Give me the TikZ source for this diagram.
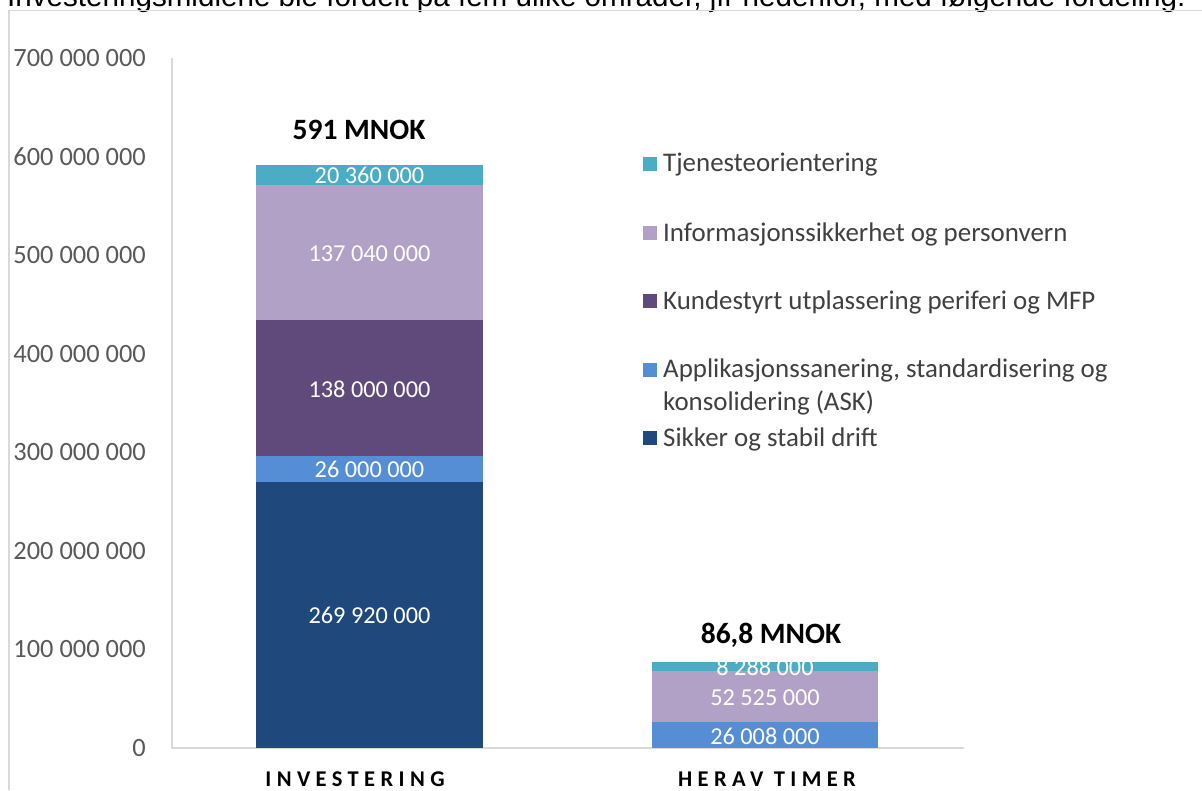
\documentclass[tikz,border=0pt]{standalone}
\usepackage{fontspec}
\setmainfont{Carlito}
\newfontfamily\arialfont{Liberation Sans}
\definecolor{cTje}{HTML}{4BACC6}
\definecolor{cInf}{HTML}{B2A1C7}
\definecolor{cKun}{HTML}{604A7B}
\definecolor{cApp}{HTML}{558ED5}
\definecolor{cSik}{HTML}{1F497D}
\definecolor{gridc}{HTML}{D9D9D9}
\definecolor{axtxt}{HTML}{595959}
\definecolor{legtxt}{HTML}{404040}
\begin{document}
\begin{tikzpicture}[x=1pt,y=-1pt,
  ticklab/.style={anchor=east,text=axtxt,font=\fontsize{26.4}{31}\selectfont,inner sep=0pt},
  seglab/.style={text=white,font=\fontsize{24.3}{28}\selectfont,inner sep=0pt},
  totlab/.style={text=black,font=\bfseries\fontsize{29.5}{33}\selectfont,inner sep=0pt},
  catlab/.style={text=black,font=\bfseries\fontsize{22.5}{26}\selectfont\addfontfeature{LetterSpace=24},inner sep=0pt},
  legtext/.style={anchor=west,text=legtxt,font=\fontsize{26.9}{33}\selectfont,inner sep=0pt,align=left},
  legbox/.style={minimum size=14pt,inner sep=0pt}]
\clip (0,0) rectangle (1202,790);
\fill[white] (0,0) rectangle (1202,790);
% top text (cut off at the top edge, as in the source)
\node[anchor=base west,inner sep=0pt] (toptext) at (7,6) {\resizebox{1178pt}{!}{\arialfont Investeringsmidlene ble fordelt på fem ulike områder, jfr nedenfor, med følgende fordeling:}};
% frame
\draw[gridc,line width=1.5pt] (9,790) -- (9,10.5) -- (1202,10.5);
% axes
\draw[gridc,line width=1.5pt] (172,58) -- (172,748) -- (964,748);
% tick labels
\foreach \v/\n in {0/0,1/100 000 000,2/200 000 000,3/300 000 000,4/400 000 000,5/500 000 000,6/600 000 000,7/700 000 000}{
  \node[ticklab] (t\v) at (146,{748-\v*98.6}) {\n};
}
% bar 1
\fill[cSik] (256,748) rectangle (483,481.9);
\fill[cApp] (256,481.9) rectangle (483,456.2);
\fill[cKun] (256,456.2) rectangle (483,320.2);
\fill[cInf] (256,320.2) rectangle (483,185.0);
\fill[cTje] (256,185.0) rectangle (483,165.0);
\node[seglab] (b1s) at (369.5,615) {269 920 000};
\node[seglab] (b1a) at (369.5,469.5) {26 000 000};
\node[seglab] (b1k) at (369.5,389) {138 000 000};
\node[seglab] (b1i) at (369.5,254) {137 040 000};
\node[seglab] (b1t) at (369.5,175.5) {20 360 000};
% bar 2
\fill[cApp] (652,748) rectangle (878,722.4);
\fill[cInf] (652,722.4) rectangle (878,670.6);
\fill[cTje] (652,670.6) rectangle (878,662.4);
\node[seglab] (b2a) at (765,736) {26 008 000};
\node[seglab] (b2i) at (765,697.5) {52 525 000};
\node[seglab] (b2t) at (765,667.5) {8 288 000};
% totals
\node[totlab] (tot1) at (359,130) {591 MNOK};
\node[totlab] (tot2) at (771,635) {86,8 MNOK};
% categories
\node[catlab] (cat1) at (355,779) {INVESTERING};
\node[catlab] (cat2) at (767,779) {HERAV TIMER};
% legend
\node[legbox,fill=cTje] (l1) at (649.5,164) {};
\node[legtext] (l1t) at (663,165) {Tjenesteorientering};
\node[legbox,fill=cInf] (l2) at (649.5,233) {};
\node[legtext] (l2t) at (663,234) {Informasjonssikkerhet og personvern};
\node[legbox,fill=cKun] (l3) at (649.5,301) {};
\node[legtext] (l3t) at (663,302) {Kundestyrt utplassering periferi og MFP};
\node[legbox,fill=cApp] (l4) at (649.5,370) {};
\node[legtext] (l4t) at (663,387) {Applikasjonssanering, standardisering og\\konsolidering (ASK)};
\node[legbox,fill=cSik] (l5) at (649.5,438) {};
\node[legtext] (l5t) at (663,439) {Sikker og stabil drift};
\end{tikzpicture}
\end{document}
